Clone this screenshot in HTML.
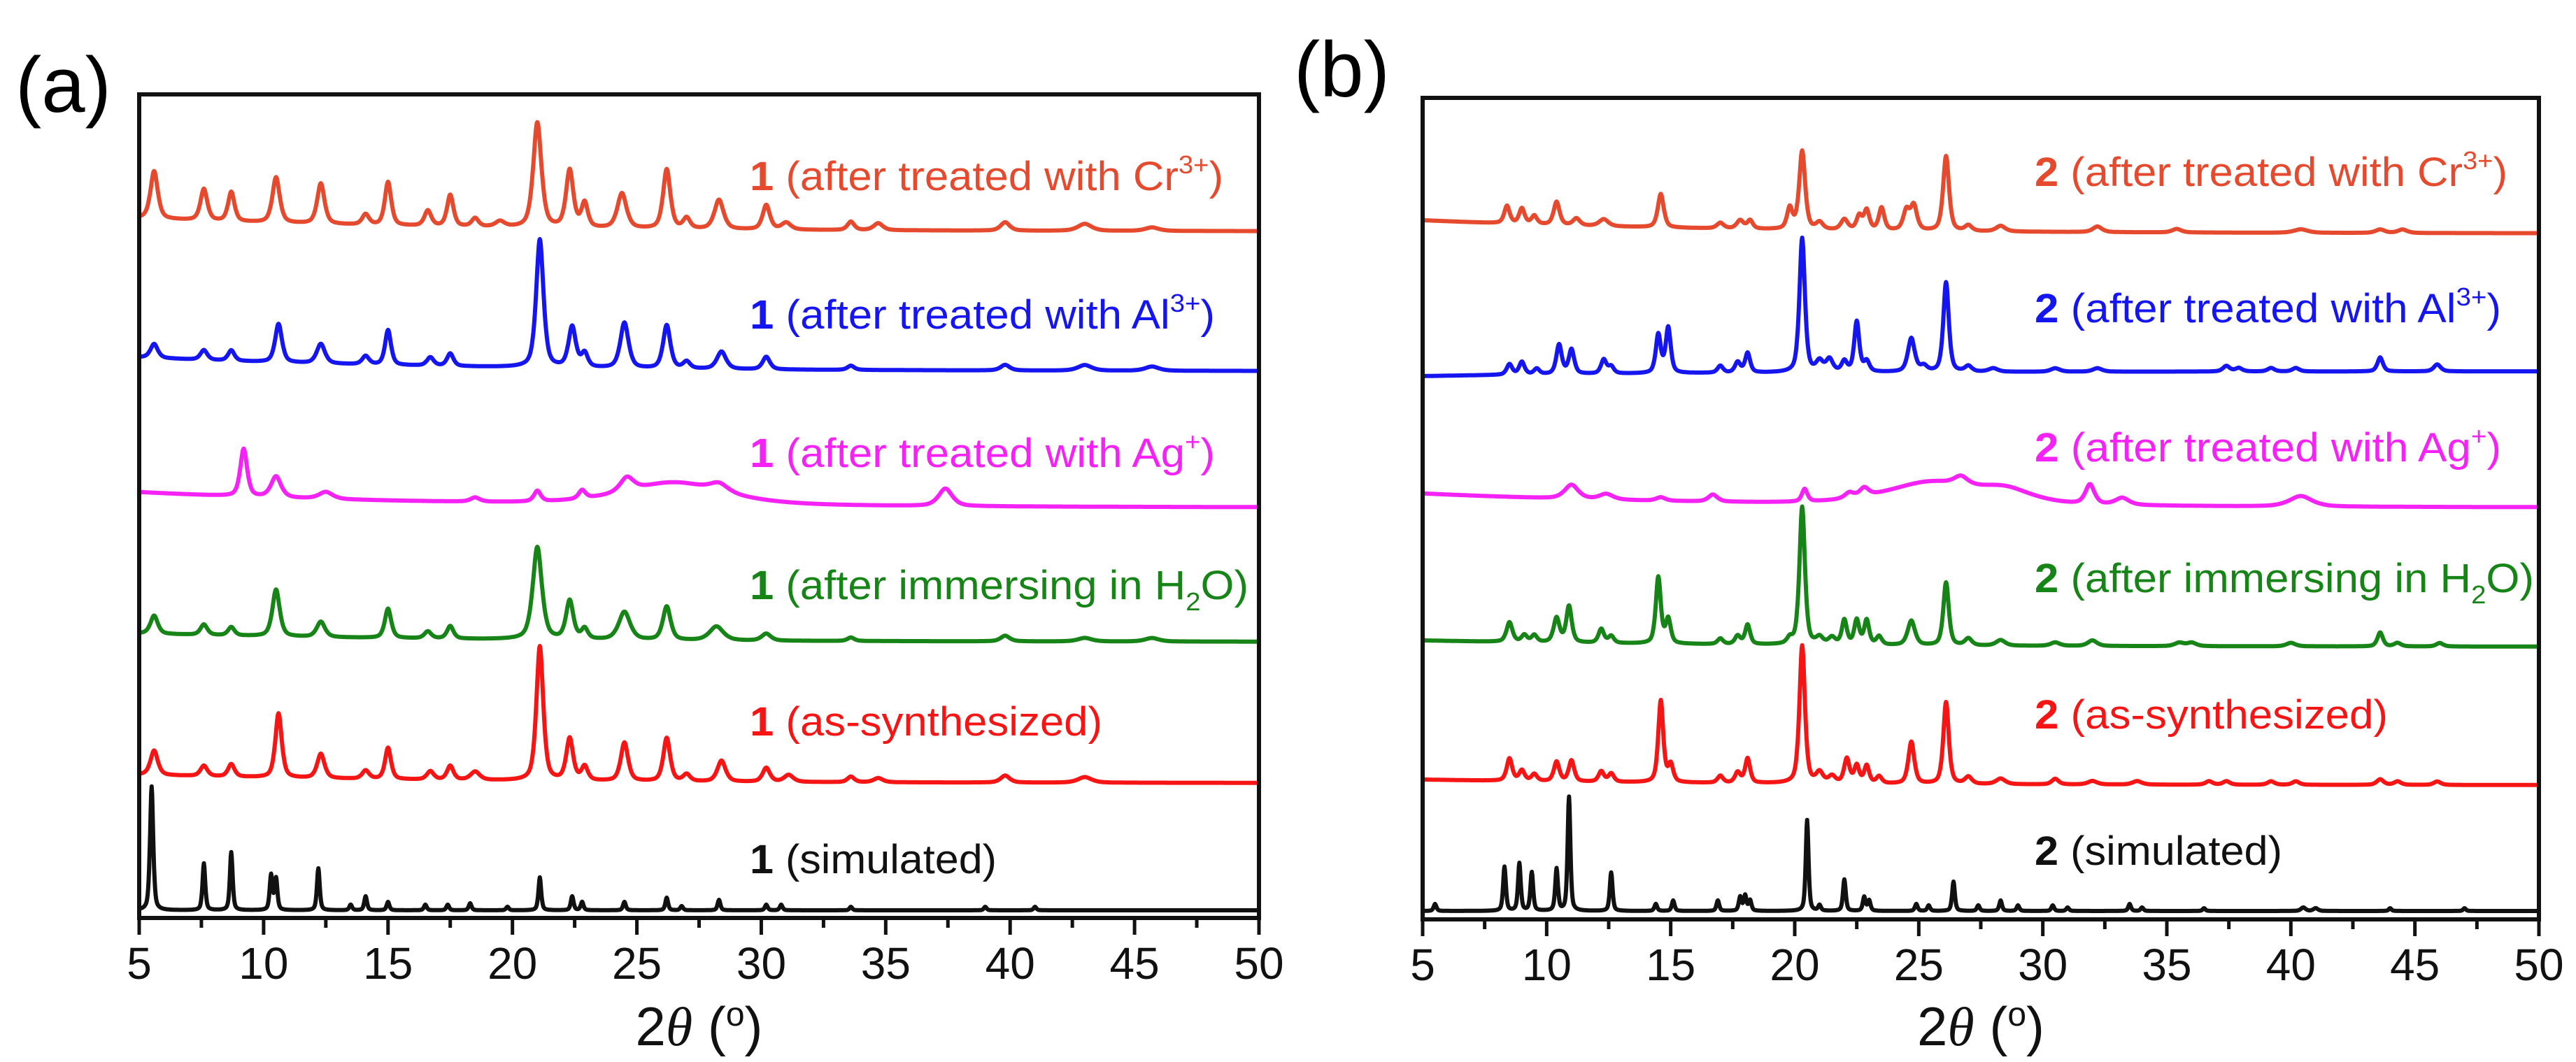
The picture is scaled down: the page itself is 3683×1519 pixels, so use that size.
<!DOCTYPE html>
<html><head><meta charset="utf-8"><style>
html,body{margin:0;padding:0;background:#fff;}
svg{display:block;font-family:"Liberation Sans",Arial,sans-serif;}
</style></head><body>
<svg id="fig" width="3683" height="1519" viewBox="0 0 3683 1519" xmlns="http://www.w3.org/2000/svg">
<rect width="3683" height="1519" fill="#fff"/>
<text x="22" y="160" font-size="112">(a)</text>
<text x="1850" y="138" font-size="112">(b)</text>
<g id="pa"></g>
<g id="pb"></g>
</svg>
<script>
const xTicks=[5,10,15,20,25,30,35,40,45,50];
const seriesColors=["#e64a2e","#1515f0","#f522f5","#178417","#f51515","#111111"];
const labelTextsA=["(after treated with Cr","(after treated with Al","(after treated with Ag","(after immersing in H","(as-synthesized)","(simulated)"];
const labelSups=["3+","3+","+","","",""];
const offsetsA=[982,782,587,395,193,11];
const offsetsB=[981,784,589,390,192,12];
const riseA=[19,20,22,12,12,0];
const riseB=[19,-7,20,9,8,0];
const peaksA0=[[5.6,68,.16],[7.6,45,.15],[8.7,42,.14],[10.5,65,.16],[12.3,58,.16],[14.1,15,.15],[15,62,.14],[16.6,22,.15],[17.5,45,.14],[18.5,12,.15],[19.5,8,.2],[21,150,.18],[22.3,82,.16],[22.9,35,.14],[24.4,50,.2],[26.2,85,.16],[27,15,.15],[28.3,42,.2],[30.2,35,.16],[31,10,.2],[33.6,12,.15],[34.7,10,.2],[39.8,12,.2],[43,10,.3],[45.7,5,.3]];
const peaksA1=[[5.6,20,.16],[7.6,14,.15],[8.7,15,.14],[10.6,55,.15],[12.3,28,.18],[14.1,12,.15],[15,50,.13],[16.7,12,.15],[17.5,18,.14],[21.1,183,.16],[22.4,58,.16],[22.9,20,.14],[24.5,65,.18],[26.2,62,.16],[27,10,.15],[28.4,25,.2],[30.2,18,.16],[33.6,6,.15],[39.8,8,.2],[43,8,.3],[45.7,6,.3]];
const peaksA2=[[9.2,68,.15],[10.5,30,.22],[12.5,10,.3],[18.5,6,.2],[21,15,.15],[22.8,12,.15],[24.6,20,.3],[26.5,32,2.2],[28.3,12,.4],[37.4,25,.3]];
const peaksA3=[[5.6,26,.16],[7.6,15,.15],[8.7,12,.14],[10.5,67,.16],[12.3,22,.18],[15,42,.14],[16.6,10,.15],[17.5,18,.14],[21,132,.2],[22.3,55,.16],[22.9,15,.14],[24.5,40,.25],[26.2,48,.17],[28.2,20,.3],[30.2,10,.2],[33.6,5,.15],[39.8,8,.2],[43,5,.3],[45.7,5,.3]];
const peaksA4=[[5.6,35,.16],[7.6,15,.15],[8.7,18,.14],[10.6,92,.14],[12.3,35,.16],[14.1,12,.15],[15,45,.13],[16.7,12,.15],[17.5,20,.14],[18.5,12,.2],[21.1,192,.15],[22.3,60,.15],[22.9,20,.14],[24.5,55,.16],[26.2,62,.15],[27,10,.15],[28.4,30,.18],[30.2,20,.16],[31.1,10,.2],[33.6,8,.15],[34.7,6,.2],[39.8,10,.2],[43,8,.3]];
const peaksA5=[[5.5,177,.07],[7.6,67,.06],[8.7,83,.06],[10.3,50,.06],[10.5,45,.06],[12.2,60,.06],[13.5,8,.06],[14.1,20,.06],[15,12,.06],[16.5,8,.06],[17.4,8,.06],[18.3,10,.06],[19.8,5,.06],[21.1,47,.06],[22.4,20,.06],[22.8,12,.06],[24.5,12,.06],[26.2,18,.06],[26.8,6,.06],[28.3,15,.06],[30.2,8,.06],[30.8,8,.06],[33.6,5,.06],[39,5,.06],[41,5,.06]];
const peaksB0=[[8.4,25,.12],[9,22,.12],[9.5,12,.12],[10.4,33,.13],[11.2,10,.15],[12.3,10,.2],[14.6,48,.13],[17,8,.15],[17.8,12,.15],[18.2,12,.12],[19.8,30,.12],[20.3,112,.13],[21,10,.15],[22,15,.15],[22.6,20,.12],[22.9,28,.12],[23.5,32,.12],[24.5,28,.14],[24.8,35,.14],[26.1,107,.13],[27,8,.15],[28.3,8,.2],[32.2,8,.2],[35.4,5,.2],[40.4,5,.3],[43.6,5,.2],[44.5,5,.2]];
const peaksB1=[[8.5,15,.12],[9,18,.12],[9.6,8,.12],[10.5,42,.12],[11,35,.12],[12.3,20,.12],[12.6,10,.12],[14.5,55,.11],[14.9,65,.11],[17,10,.12],[17.7,15,.12],[18.1,28,.11],[20.3,192,.12],[21,15,.15],[21.4,18,.15],[22,15,.12],[22.5,72,.11],[22.9,15,.12],[24.7,48,.15],[25.2,8,.15],[26.1,128,.12],[27,8,.15],[28,5,.2],[30.5,5,.2],[32.2,5,.2],[37.4,8,.15],[37.9,5,.15],[39.2,5,.15],[40.2,5,.15],[43.6,20,.12],[45.9,10,.15]];
const peaksB2=[[11,20,.3],[12.4,8,.3],[14.6,5,.2],[16.7,10,.2],[20.4,18,.12],[22.2,8,.2],[22.8,12,.2],[25.5,32,2.0],[26.7,12,.3],[28.5,18,1.2],[31.9,28,.2],[33.2,10,.3],[40.4,15,.5]];
const peaksB3=[[8.5,28,.13],[9.1,10,.12],[9.5,10,.12],[10.4,35,.13],[10.9,52,.12],[12.2,20,.12],[12.6,10,.12],[14.5,95,.11],[14.9,35,.11],[17,8,.12],[17.7,12,.12],[18.1,28,.11],[19.8,8,.12],[20.3,197,.12],[21,10,.15],[21.5,10,.15],[22,35,.11],[22.5,35,.11],[22.9,35,.11],[23.4,12,.12],[24.7,35,.16],[26.1,90,.12],[27,10,.15],[28.3,8,.2],[30.5,5,.2],[32,8,.2],[35.5,5,.2],[36,5,.2],[40,5,.2],[43.6,20,.12],[44.3,5,.15],[46,5,.15]];
const peaksB4=[[8.5,32,.12],[9,15,.12],[9.5,10,.12],[10.4,28,.12],[11,30,.12],[12.2,15,.12],[12.6,12,.12],[14.6,117,.11],[15,25,.11],[17,10,.12],[17.7,15,.12],[18.1,35,.11],[20.3,197,.12],[21,15,.15],[21.5,10,.15],[22.1,35,.12],[22.5,25,.11],[22.9,25,.11],[23.4,10,.12],[24.7,60,.13],[26.1,117,.12],[27,10,.15],[28.3,8,.2],[30.5,8,.15],[32,5,.2],[33.8,5,.2],[36.7,5,.15],[37.4,5,.15],[39.2,5,.15],[40.2,5,.15],[43.6,8,.15],[44.3,5,.15],[45.9,5,.15]];
const peaksB5=[[5.5,10,.06],[8.3,63,.06],[8.9,68,.06],[9.4,55,.06],[10.4,60,.06],[10.9,163,.06],[12.6,55,.06],[14.4,10,.06],[15.1,15,.06],[16.9,15,.06],[17.8,20,.06],[18,22,.06],[18.2,15,.06],[20.5,130,.06],[21,8,.06],[22,45,.06],[22.8,20,.06],[23,15,.06],[24.9,10,.06],[25.4,8,.06],[26.4,42,.06],[27.4,8,.06],[28.3,15,.06],[29,8,.06],[30.4,8,.06],[31,5,.06],[33.5,10,.06],[34,5,.06],[36.5,4,.06],[40.5,5,.1],[41,4,.1],[44,4,.06],[47,4,.06]];
const peaksA=[peaksA0,peaksA1,peaksA2,peaksA3,peaksA4,peaksA5];
const peaksB=[peaksB0,peaksB1,peaksB2,peaksB3,peaksB4,peaksB5];

const NS="http://www.w3.org/2000/svg";
function mk(tag,attrs,parent){const e=document.createElementNS(NS,tag);for(const k in attrs)e.setAttribute(k,attrs[k]);parent.appendChild(e);return e;}

function drawPanel(g,P,offsets,rises,peaks,num,labelX,labelEnds,labelYs){
  const xs=v=>P.x0+(v-5)/45*(P.x1-P.x0);
  const ys=v=>P.y1-v;
  for(let s=0;s<6;s++){
    const pts=[];
    for(let t=5;t<=50.0001;t+=0.02){
      let v=offsets[s]+rises[s]*Math.exp(-(t-5)/12);
      for(const p of peaks[s]){const d=(t-p[0])/p[2];v+=p[1]*(0.6/(1+d*d)+0.4*Math.exp(-d*d/2));}
      pts.push(xs(t).toFixed(1)+","+ys(v).toFixed(1));
    }
    const pl=mk("polyline",{points:pts.join(" "),fill:"none",stroke:seriesColors[s],"stroke-width":6,"stroke-linejoin":"round"},g);
    
    
    const tx=mk("text",{x:labelX,y:labelYs[s],"font-size":58,fill:seriesColors[s],textLength:labelEnds[s]-labelX,lengthAdjust:"spacingAndGlyphs"},g);
    
    
    const b=mk("tspan",{"font-weight":"bold"},tx);b.textContent=num+" ";
    const t1=mk("tspan",{},tx);t1.textContent=labelTextsA[s];
    if(labelSups[s]){const sp=mk("tspan",{dy:-24,"font-size":36},tx);sp.textContent=labelSups[s];const c=mk("tspan",{dy:24},tx);c.textContent=")";}
    else if(s==3){const sb=mk("tspan",{dy:16,"font-size":36},tx);sb.textContent="2";const c=mk("tspan",{dy:-16},tx);c.textContent="O)";}
  }
  const fr=mk("rect",{x:P.x0,y:P.y0,width:P.x1-P.x0,height:P.y1-P.y0,fill:"none",stroke:"#111","stroke-width":6},g);
  
  
  for(let v=5;v<=50;v+=2.5){
    const major=(v%5===0);
    const tk=mk("line",{x1:xs(v),x2:xs(v),y1:P.y1,y2:P.y1+(major?24:14),stroke:"#111","stroke-width":5},g);
    
    
  }
  for(const v of xTicks){
    const tl=mk("text",{x:xs(v),y:P.y1+87,"font-size":64,"text-anchor":"middle",fill:"#111"},g);
    
    
    tl.textContent=v;
  }
  const at=mk("text",{x:(P.x0+P.x1)/2,y:1495,"font-size":78,"text-anchor":"middle",fill:"#111"},g);
  
  
  const a1=mk("tspan",{},at);a1.textContent="2";
  const a2=mk("tspan",{"font-style":"italic","font-family":"Liberation Serif, serif"},at);a2.textContent="θ";
  const a3=mk("tspan",{},at);a3.textContent=" (";
  const a4=mk("tspan",{dy:-28,"font-size":48},at);a4.textContent="o";
  const a5=mk("tspan",{dy:28},at);a5.textContent=")";
}
drawPanel(document.getElementById("pa"),{x0:199,x1:1800,y0:135,y1:1313},offsetsA,riseA,peaksA,"1",1072,[1749,1737,1737,1785,1576,1425],[272,470,668,857,1052,1249]);
drawPanel(document.getElementById("pb"),{x0:2034,x1:3630,y0:140,y1:1315},offsetsB,riseB,peaksB,"2",2909,[3585,3576,3576,3623,3414,3263],[266,461,660,847,1042,1237]);
</script>
</body></html>
